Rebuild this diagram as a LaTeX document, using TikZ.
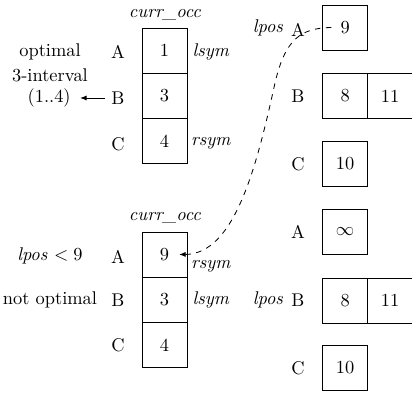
\documentclass[tikz,border=0pt]{standalone}
\usetikzlibrary{arrows.meta}
\begin{document}
\begin{tikzpicture}[x=0.5435pt,y=-0.5435pt,
  cell/.style={draw,line width=0.5pt,minimum width=24.46pt,minimum height=24.46pt,inner sep=0pt,anchor=center},
  lab/.style={inner sep=0pt,anchor=center},
  arr/.style={-{Latex[length=3.5pt,width=2.8pt]},line width=0.45pt}]
\useasboundingbox (0,0) rectangle (412,395);
% top left column
\node[lab] (t-title) at (165,15) {\textit{curr\_occ}};
\node[cell] (t-a) at (164.5,50.8) {1};
\node[cell] (t-b) at (164.5,95.8) {3};
\node[cell] (t-c) at (164.5,140.8) {4};
\node[lab] (t-la) at (118,52) {A};
\node[lab] (t-lb) at (118,98) {B};
\node[lab] (t-lc) at (118,144) {C};
\node[lab] (t-ls) at (211,52) {\textit{lsym}};
\node[lab] (t-rs) at (211,143) {\textit{rsym}};
\node[lab] (t-opt) at (50,52) {optimal};
\node[lab] (t-int) at (50,75) {3-interval};
\node[lab,anchor=east] (t-rng) at (71,98) {(1..4)};
\draw[arr] ([xshift=-3.3pt]t-lb.west) -- ([xshift=5pt]t-rng.east);
% bottom left column
\node[lab] (b-title) at (165,218) {\textit{curr\_occ}};
\node[cell] (b-a) at (164.5,254.5) {9};
\node[cell] (b-b) at (164.5,299.5) {3};
\node[cell] (b-c) at (164.5,345) {4};
\node[lab] (b-la) at (118,257) {A};
\node[lab] (b-lb) at (118,300) {B};
\node[lab] (b-lc) at (118,345) {C};
\node[lab] (b-rs) at (211,266) {\textit{rsym}};
\node[lab] (b-ls) at (211,300) {\textit{lsym}};
\node[lab] (b-lpos) at (50,256) {$\mathit{lpos}<9$};
\node[lab] (b-no) at (50,300) {not optimal};
% top right
\node[cell] (r-a) at (345.2,27.5) {9};
\node[cell] (r-b1) at (345.2,96) {8};
\node[cell] (r-b2) at (390.2,96) {11};
\node[cell] (r-c) at (345.2,164) {10};
\node[lab] (r-la) at (298,30) {A};
\node[lab] (r-lb) at (298,96) {B};
\node[lab] (r-lc) at (298,164) {C};
\node[lab] (r-lpos) at (268,28) {\textit{lpos}};
% bottom right
\node[cell] (s-a) at (345.2,231.5) {$\infty$};
\node[cell] (s-b1) at (345.2,300.5) {8};
\node[cell] (s-b2) at (390.2,300.5) {11};
\node[cell] (s-c) at (345.2,368) {10};
\node[lab] (s-la) at (298,232) {A};
\node[lab] (s-lb) at (298,300) {B};
\node[lab] (s-lc) at (298,368) {C};
\node[lab] (s-lpos) at (268,300) {\textit{lpos}};
% dashed connector
\coordinate (c-start) at ([xshift=-7.5pt]r-a.center);
\coordinate (c-mid) at (275,83);
\coordinate (c-end) at ([xshift=8pt]b-a.center);
\draw[dashed,line width=0.45pt,-{Latex[length=3.5pt,width=2.8pt]}]
  (c-start) .. controls (300,28) and (285,40) .. (c-mid)
  .. controls (257,165) and (235,254) .. (c-end);
\end{tikzpicture}
\end{document}
